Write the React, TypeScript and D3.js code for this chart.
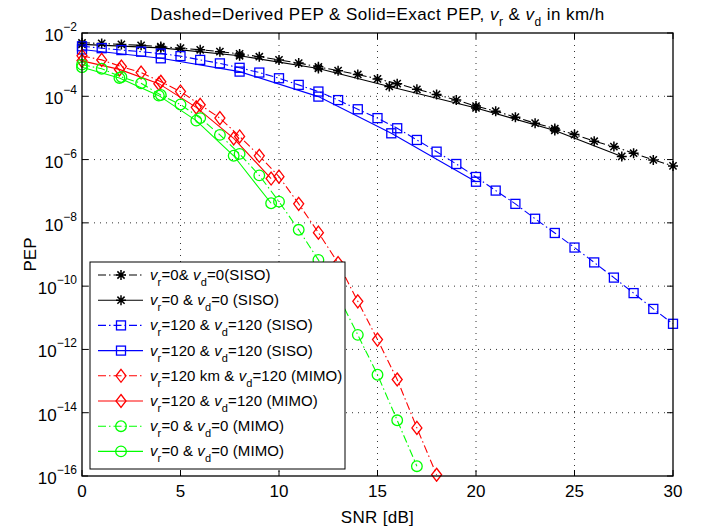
import React from "react";
import * as d3 from "d3";

// SNR grids (dB)
const snrDerivedSiso = [0, 1, 2, 3, 4, 5, 6, 7, 8, 9, 10, 11, 12, 13, 14, 15, 16, 17, 18, 19, 20, 21, 22, 23, 24, 25, 26, 27, 28, 29, 30];
const snrExactSiso0 = [0, 4, 8, 12, 15.6, 20, 24, 27.4];
const snrExactSiso120 = [0, 4, 8, 12, 15.7, 20];
const snrDerivedRed = [0, 1, 2, 3, 4, 5, 6, 7, 8, 9, 10, 11, 12, 13, 14, 15, 16, 17, 18];
const snrDerivedGreen = [0, 1, 2, 3, 4, 5, 6, 7, 8, 9, 10, 11, 12, 13, 14, 15, 16, 17];
const snrExactMimo = [0, 1.9, 3.9, 5.8, 7.7, 9.6];

const blackDerivedExp = [-2.31, -2.33, -2.36, -2.39, -2.43, -2.48, -2.53, -2.59, -2.66, -2.75, -2.85, -2.95, -3.07, -3.19, -3.31, -3.45, -3.6, -3.78, -3.94, -4.12, -4.31, -4.47, -4.66, -4.85, -5.02, -5.21, -5.42, -5.59, -5.8, -6.01, -6.2];
const blackExactExp = [-2.36, -2.47, -2.72, -3.12, -3.69, -4.37, -5.08, -5.9];
const blueDerivedExp = [-2.42, -2.48, -2.54, -2.59, -2.65, -2.73, -2.85, -2.96, -3.1, -3.25, -3.43, -3.64, -3.85, -4.12, -4.41, -4.69, -5.01, -5.38, -5.75, -6.14, -6.55, -6.98, -7.4, -7.87, -8.32, -8.78, -9.25, -9.73, -10.22, -10.72, -11.19];
const blueExactExp = [-2.52, -2.8, -3.22, -4.01, -5.17, -6.7];
const redDerivedExp = [-2.72, -2.85, -3.06, -3.25, -3.54, -3.85, -4.27, -4.69, -5.27, -5.88, -6.54, -7.4, -8.31, -9.27, -10.48, -11.69, -12.95, -14.48, -15.96];
const redExactExp = [-2.88, -3.15, -3.6, -4.35, -5.33, -6.6];
const greenDerivedExp = [-3.0, -3.13, -3.39, -3.59, -3.96, -4.26, -4.69, -5.22, -5.82, -6.5, -7.33, -8.22, -9.17, -10.3, -11.54, -12.8, -14.24, -15.69];
const greenExactExp = [-3.08, -3.42, -3.98, -4.77, -5.88, -7.38];

const xTicks = [0, 5, 10, 15, 20, 25, 30];
const yTickExps = [-2, -4, -6, -8, -10, -12, -14, -16];

type Part = { t: string; it?: boolean; sub?: boolean };

const legendLabels: Part[][] = [
  [{ t: "v", it: true }, { t: "r", sub: true }, { t: "=0& " }, { t: "v", it: true }, { t: "d", sub: true }, { t: "=0(SISO)" }],
  [{ t: "v", it: true }, { t: "r", sub: true }, { t: "=0 & " }, { t: "v", it: true }, { t: "d", sub: true }, { t: "=0 (SISO)" }],
  [{ t: "v", it: true }, { t: "r", sub: true }, { t: "=120 & " }, { t: "v", it: true }, { t: "d", sub: true }, { t: "=120 (SISO)" }],
  [{ t: "v", it: true }, { t: "r", sub: true }, { t: "=120 & " }, { t: "v", it: true }, { t: "d", sub: true }, { t: "=120 (SISO)" }],
  [{ t: "v", it: true }, { t: "r", sub: true }, { t: "=120 km & " }, { t: "v", it: true }, { t: "d", sub: true }, { t: "=120 (MIMO)" }],
  [{ t: "v", it: true }, { t: "r", sub: true }, { t: "=120 & " }, { t: "v", it: true }, { t: "d", sub: true }, { t: "=120 (MIMO)" }],
  [{ t: "v", it: true }, { t: "r", sub: true }, { t: "=0 & " }, { t: "v", it: true }, { t: "d", sub: true }, { t: "=0 (MIMO)" }],
  [{ t: "v", it: true }, { t: "r", sub: true }, { t: "=0 & " }, { t: "v", it: true }, { t: "d", sub: true }, { t: "=0 (MIMO)" }],
];

const titleParts: Part[] = [
  { t: "Dashed=Derived PEP & Solid=Exact PEP, " }, { t: "v", it: true }, { t: "r", sub: true },
  { t: " & " }, { t: "v", it: true }, { t: "d", sub: true }, { t: " in km/h" },
];

const DASH = "8,3,1.5,3";

const series = [
  { snr: snrDerivedSiso, exp: blackDerivedExp, color: "#000000", dashed: true, marker: "star" },
  { snr: snrExactSiso0, exp: blackExactExp, color: "#000000", dashed: false, marker: "star" },
  { snr: snrDerivedSiso, exp: blueDerivedExp, color: "#0000ff", dashed: true, marker: "square" },
  { snr: snrExactSiso120, exp: blueExactExp, color: "#0000ff", dashed: false, marker: "square" },
  { snr: snrDerivedRed, exp: redDerivedExp, color: "#ff0000", dashed: true, marker: "diamond" },
  { snr: snrExactMimo, exp: redExactExp, color: "#ff0000", dashed: false, marker: "diamond" },
  { snr: snrDerivedGreen, exp: greenDerivedExp, color: "#00ff00", dashed: true, marker: "circle" },
  { snr: snrExactMimo, exp: greenExactExp, color: "#00ff00", dashed: false, marker: "circle" },
];

const Marker = ({ kind, x, y, color }: { kind: string; x: number; y: number; color: string }) => {
  if (kind === "star") {
    return (
      <path
        transform={`translate(${x},${y})`}
        d="M-5,0H5M0,-5V5M-3.6,-3.6L3.6,3.6M-3.6,3.6L3.6,-3.6"
        stroke={color}
        strokeWidth={1.5}
        fill="none"
      />
    );
  }
  if (kind === "square") {
    return <rect x={x - 4.5} y={y - 4.5} width={9} height={9} stroke={color} strokeWidth={1.3} fill="none" />;
  }
  if (kind === "diamond") {
    return (
      <path
        transform={`translate(${x},${y})`}
        d="M0,-6.5L5,0L0,6.5L-5,0Z"
        stroke={color}
        strokeWidth={1.3}
        fill="none"
      />
    );
  }
  return <circle cx={x} cy={y} r={5.3} stroke={color} strokeWidth={1.3} fill="none" />;
};

const renderParts = (parts: Part[], subSize: number) => {
  let shifted = false;
  return parts.map((p, i) => {
    let dy = 0;
    if (p.sub && !shifted) { dy = 6; shifted = true; }
    else if (!p.sub && shifted) { dy = -6; shifted = false; }
    return (
      <tspan
        key={i}
        dy={dy || undefined}
        fontStyle={p.it ? "italic" : undefined}
        fontSize={p.sub ? subSize : undefined}
      >
        {p.t}
      </tspan>
    );
  });
};

export default function App() {
  const width = 712;
  const height = 532;
  const left = 82, right = 673, top = 33, bottom = 476;

  const x = d3.scaleLinear().domain([0, 30]).range([left, right]);
  const y = d3.scaleLog().domain([1e-16, 1e-2]).range([bottom, top]);

  const line = d3
    .line<[number, number]>()
    .x((d) => x(d[0]))
    .y((d) => y(Math.pow(10, d[1])));

  const font = "'Liberation Sans', Arial, Helvetica, sans-serif";

  const legX = 90, legY = 262, legW = 255, legH = 207;

  return (
    <svg
      width={width}
      height={height}
      style={{ position: "absolute", left: 0, top: 0, background: "#fff" }}
      fontFamily={font}
    >
      <rect x={0} y={0} width={width} height={height} fill="#fff" />
      <defs>
        <clipPath id="plotClip">
          <rect x={left - 6} y={top - 6} width={right - left + 12} height={bottom - top + 12} />
        </clipPath>
      </defs>

      {/* grid */}
      {xTicks.slice(1, -1).map((t) => (
        <line key={"gx" + t} x1={x(t)} x2={x(t)} y1={top} y2={bottom} stroke="#333" strokeWidth={1} strokeDasharray="1,5" />
      ))}
      {yTickExps.slice(1, -1).map((e) => (
        <line key={"gy" + e} x1={left} x2={right} y1={y(Math.pow(10, e))} y2={y(Math.pow(10, e))} stroke="#333" strokeWidth={1} strokeDasharray="1,5" />
      ))}

      {/* series */}
      <g clipPath="url(#plotClip)">
        {series.map((s, i) => {
          const pts: [number, number][] = s.snr.map((v, k) => [v, s.exp[k]]);
          return (
            <g key={i}>
              <path d={line(pts) || ""} fill="none" stroke={s.color} strokeWidth={1.1} strokeDasharray={s.dashed ? DASH : undefined} />
              {pts.map((p, k) => (
                <Marker key={k} kind={s.marker} x={x(p[0])} y={y(Math.pow(10, p[1]))} color={s.color} />
              ))}
            </g>
          );
        })}
      </g>

      {/* frame and ticks */}
      <rect x={left} y={top} width={right - left} height={bottom - top} fill="none" stroke="#000" strokeWidth={1.3} />
      {xTicks.map((t) => (
        <g key={"tx" + t}>
          <line x1={x(t)} x2={x(t)} y1={bottom} y2={bottom - 6} stroke="#000" />
          <line x1={x(t)} x2={x(t)} y1={top} y2={top + 6} stroke="#000" />
          <text x={x(t)} y={bottom + 21} textAnchor="middle" fontSize={17}>{t}</text>
        </g>
      ))}
      {yTickExps.map((e) => {
        const yy = y(Math.pow(10, e));
        return (
          <g key={"ty" + e}>
            <line x1={left} x2={left + 6} y1={yy} y2={yy} stroke="#000" />
            <line x1={right} x2={right - 6} y1={yy} y2={yy} stroke="#000" />
            <text x={77} y={yy + 8} textAnchor="end" fontSize={17}>
              10<tspan dy={-10} fontSize={12}>{"\u2212" + Math.abs(e)}</tspan>
            </text>
          </g>
        );
      })}

      {/* labels */}
      <text x={(left + right) / 2} y={523} textAnchor="middle" fontSize={17} letterSpacing={0.3}>SNR [dB]</text>
      <text transform={`translate(36,${(top + bottom) / 2}) rotate(-90)`} textAnchor="middle" fontSize={17}>PEP</text>
      <text x={(left + right) / 2} y={20} textAnchor="middle" fontSize={17} letterSpacing={0.45}>
        {renderParts(titleParts, 12)}
      </text>

      {/* legend */}
      <rect x={legX} y={legY} width={legW} height={legH} fill="#fff" stroke="#000" strokeWidth={1} />
      {series.map((s, i) => {
        const yy = legY + 13 + i * 25.2;
        return (
          <g key={"lg" + i}>
            <line x1={legX + 8} x2={legX + 53} y1={yy} y2={yy} stroke={s.color} strokeWidth={1.1} strokeDasharray={s.dashed ? DASH : undefined} />
            <Marker kind={s.marker} x={legX + 31} y={yy} color={s.color} />
            <text x={legX + 60} y={yy + 5} fontSize={15} letterSpacing={0.1}>
              {renderParts(legendLabels[i], 11)}
            </text>
          </g>
        );
      })}
    </svg>
  );
}
